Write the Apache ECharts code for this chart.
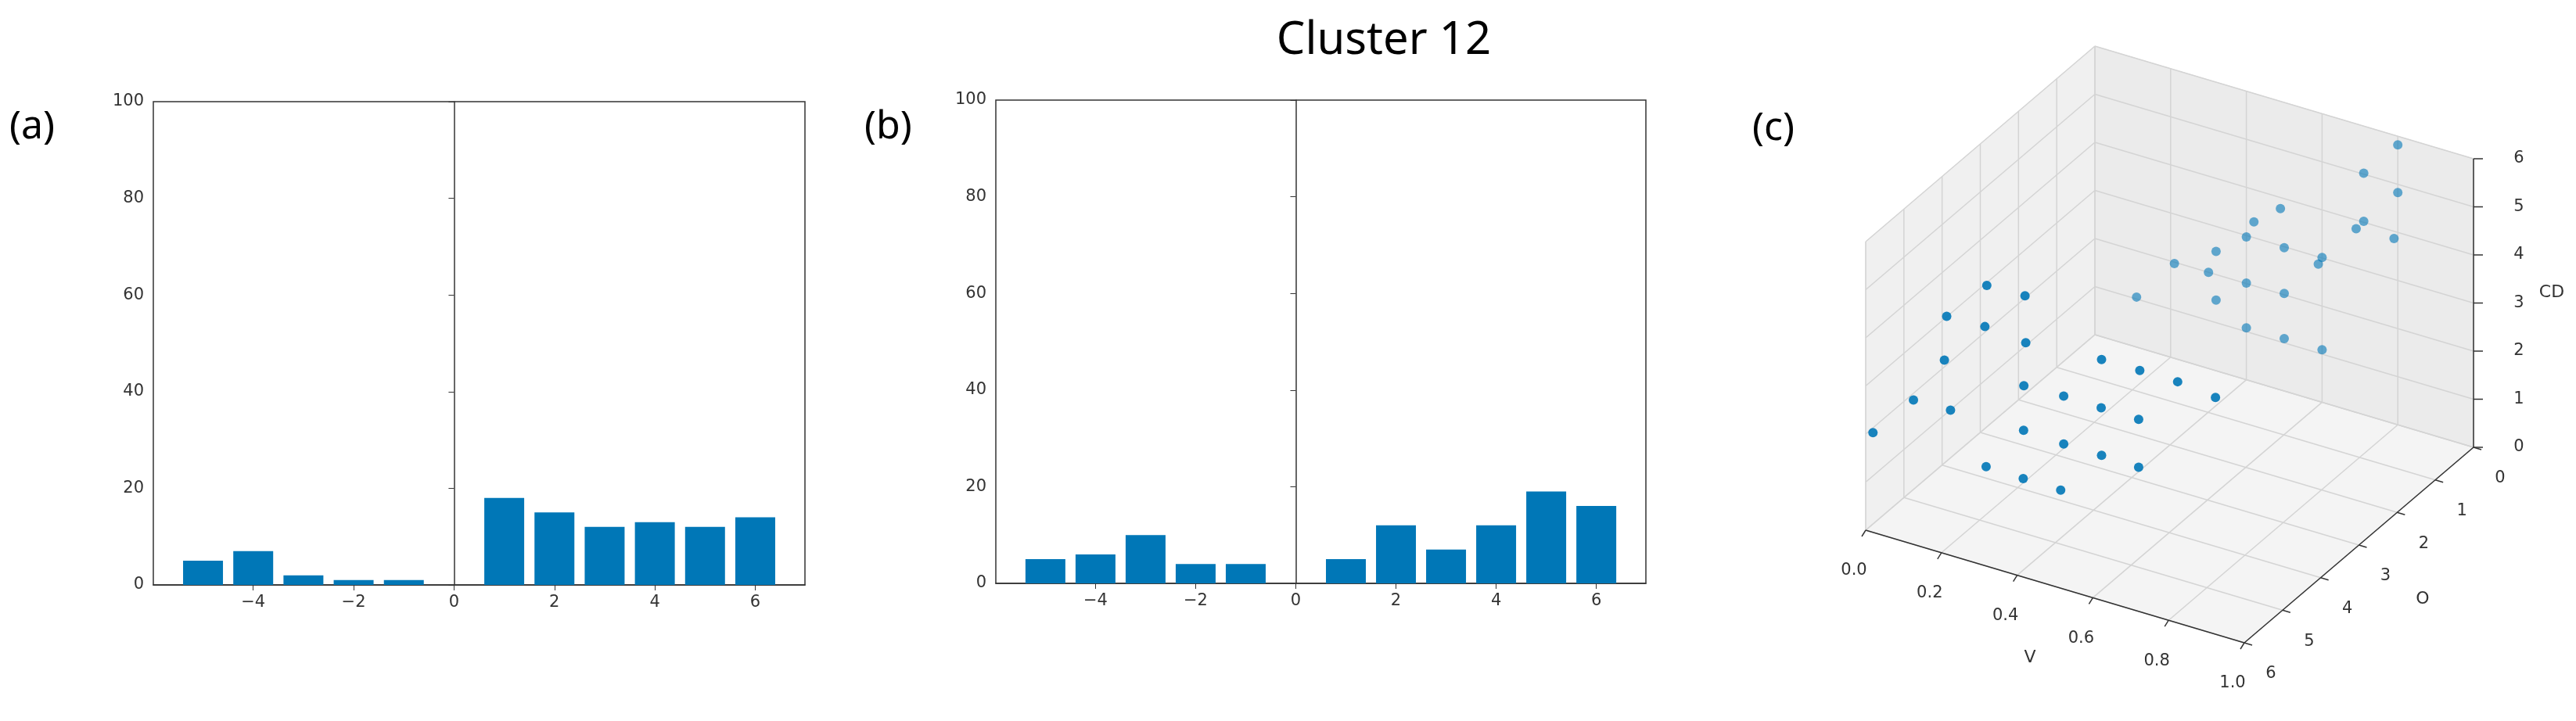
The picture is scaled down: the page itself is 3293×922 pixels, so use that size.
<!DOCTYPE html>
<html>
<head>
<meta charset="utf-8">
<script src="https://cdn.jsdelivr.net/npm/echarts@6/dist/echarts.min.js"></script>
<style>html,body{margin:0;padding:0;background:#fff}#container{width:3293px;height:922px}</style>
</head>
<body>
<div id="container"></div>
<script>
var dom = document.getElementById("container");
var myChart = echarts.init(dom);

// histogram data
var binsX = [-5, -4, -3, -2, -1, 0, 1, 2, 3, 4, 5, 6];
var countsA = [5, 7, 2, 1, 1, 0, 18, 15, 12, 13, 12, 14];
var countsB = [5, 6, 10, 4, 4, 0, 5, 12, 7, 12, 19, 16];
var xTicks = [-4, -2, 0, 2, 4, 6];

// 3D scatter data: [V, O, CD]
var pointsNear = [
  [0.07, 0.52, 0], [0.17, 0.51, 0], [0.27, 0.51, 0], [0.38, 0.61, 0],
  [0.08, 1.61, 0], [0.18, 1.62, 0], [0.28, 1.63, 0],
  [0.08, 2.66, 0], [0.19, 2.70, 0], [0.29, 2.70, 0], [0.39, 2.72, 0],
  [0.09, 3.74, 0], [0.19, 3.76, 0], [0.29, 3.77, 0],
  [0, 2.83, 2.94], [0, 1.83, 2.05], [0, 3.88, 3.01], [0, 2.88, 2.12], [0, 1.81, 1.06],
  [0, 3.94, 2.14], [0, 1.86, 0.20], [0, 4.75, 1.86], [0, 3.78, 0.99], [0, 5.81, 1.90]
];
var pointsFar = [
  [0.80, 0, 5.82], [0.71, 0, 5.02], [0.80, 0, 4.83], [0.49, 0, 3.77], [0.42, 0, 3.33],
  [0.71, 0, 4.02], [0.69, 0, 3.82], [0.79, 0, 3.85], [0.40, 0, 2.97], [0.50, 0, 2.98],
  [0.32, 0, 2.48], [0.60, 0, 3.01], [0.59, 0, 2.85], [0.21, 0, 1.97], [0.30, 0, 2.00],
  [0.40, 0, 2.01], [0.50, 0, 2.03], [0.11, 0, 1.04], [0.32, 0, 1.47], [0.40, 0, 1.08],
  [0.50, 0, 1.09], [0.60, 0, 1.09]
];
var vTicks = [0, 0.2, 0.4, 0.6, 0.8, 1.0];
var oTicks = [0, 1, 2, 3, 4, 5, 6];
var cdTicks = [0, 1, 2, 3, 4, 5, 6];

var blue = '#0077b7';
var tickFont = {color: '#333', fontSize: 21, fontFamily: 'DejaVu Sans'};

// simple projection of the 3D box onto the page
function proj(v, o, cd) {
  return [2678 + v * 484 - o / 6 * 293, 428 + v * 144 + o / 6 * 250 - cd / 6 * 369];
}

var polys = [];   // panes
var lines = [];   // grid lines
polys.push([proj(0,0,0), proj(1,0,0), proj(1,6,0), proj(0,6,0)]);
polys.push([proj(0,0,0), proj(0,6,0), proj(0,6,6), proj(0,0,6)]);
polys.push([proj(0,0,0), proj(1,0,0), proj(1,0,6), proj(0,0,6)]);
vTicks.forEach(function (v) {
  lines.push([proj(v,0,0), proj(v,6,0)]);
  lines.push([proj(v,0,0), proj(v,0,6)]);
});
oTicks.forEach(function (o) {
  lines.push([proj(0,o,0), proj(1,o,0)]);
  lines.push([proj(0,o,0), proj(0,o,6)]);
});
cdTicks.forEach(function (c) {
  lines.push([proj(0,0,c), proj(0,6,c)]);
  lines.push([proj(0,0,c), proj(1,0,c)]);
});
var axisLines = [[proj(0,6,0), proj(1,6,0)], [proj(1,6,0), proj(1,0,0)], [proj(1,0,0), proj(1,0,6)]];
var tickLabels = [];
vTicks.forEach(function (v) { var p = proj(v,6,0); tickLabels.push([p[0] - 15, p[1] + 52, v.toFixed(1)]); });
oTicks.forEach(function (o) { var p = proj(1,o,0); tickLabels.push([p[0] + 34, p[1] + 40, String(o)]); });
cdTicks.forEach(function (c) { var p = proj(1,0,c); tickLabels.push([p[0] + 58, p[1], String(c)]); });
var tickMarks = [];
vTicks.forEach(function (v) { var p = proj(v,6,0); tickMarks.push([p, [p[0] - 5, p[1] + 8]]); });
oTicks.forEach(function (o) { var p = proj(1,o,0); tickMarks.push([p, [p[0] + 10, p[1] + 3]]); });
cdTicks.forEach(function (c) { var p = proj(1,0,c); tickMarks.push([p, [p[0] + 12, p[1]]]); });

function toXY(pts) { return pts.map(function (p) { return proj(p[0], p[1], p[2]); }); }

function barSeries(counts, idx) {
  return {
    type: 'bar', xAxisIndex: idx, yAxisIndex: idx, barWidth: 51,
    itemStyle: {color: blue},
    data: binsX.map(function (x, i) { return [x, counts[i]]; })
  };
}
function xAx(idx) {
  return {
    type: 'value', gridIndex: idx, min: -5.99, max: 6.99,
    splitLine: {show: false},
    axisLine: {lineStyle: {color: '#333', width: 1.5}},
    axisTick: {customValues: xTicks, length: 7, lineStyle: {color: '#333'}},
    axisLabel: Object.assign({customValues: xTicks, margin: 12,
      formatter: function (v) { return String(v).replace('-', '\u2212'); }}, tickFont)
  };
}
function yAx(idx) {
  return {
    type: 'value', gridIndex: idx, min: 0, max: 100, interval: 20,
    splitLine: {show: false},
    axisLine: {show: true, lineStyle: {color: '#333', width: 1.5}},
    axisTick: {show: true, length: 7, lineStyle: {color: '#333'}},
    axisLabel: Object.assign({margin: 12}, tickFont)
  };
}

var option = {
  animation: false,
  title: {text: 'Cluster 12', left: 1764, top: 18, textAlign: 'center',
    textStyle: {fontSize: 58, fontWeight: 'normal', color: '#000', fontFamily: 'Noto Sans'}},
  graphic: [
    {type: 'text', left: 12, top: 138, style: {text: '(a)', fontSize: 50, fontFamily: 'Noto Sans', fill: '#000'}},
    {type: 'text', left: 1105, top: 138, style: {text: '(b)', fontSize: 50, fontFamily: 'Noto Sans', fill: '#000'}},
    {type: 'text', left: 2240, top: 140, style: {text: '(c)', fontSize: 50, fontFamily: 'Noto Sans', fill: '#000'}},
    {type: 'text', x: 2595, y: 841, style: {text: 'V', fontSize: 22, fontFamily: 'DejaVu Sans', fill: '#333', align: 'center', verticalAlign: 'middle'}},
    {type: 'text', x: 3097, y: 766, style: {text: 'O', fontSize: 22, fontFamily: 'DejaVu Sans', fill: '#333', align: 'center', verticalAlign: 'middle'}},
    {type: 'text', x: 3262, y: 374, style: {text: 'CD', fontSize: 22, fontFamily: 'DejaVu Sans', fill: '#333', align: 'center', verticalAlign: 'middle'}}
  ],
  grid: [
    {left: 196, right: 2264, top: 130, bottom: 174, show: true, borderColor: '#333', borderWidth: 1.5},
    {left: 1273, right: 1189, top: 128, bottom: 176, show: true, borderColor: '#333', borderWidth: 1.5},
    {left: 0, right: 0, top: 0, bottom: 0}
  ],
  xAxis: [xAx(0), xAx(1),
    {type: 'value', gridIndex: 2, min: 0, max: 3293, show: false}],
  yAxis: [yAx(0), yAx(1),
    {type: 'value', gridIndex: 2, min: 0, max: 922, inverse: true, show: false}],
  series: [
    barSeries(countsA, 0),
    barSeries(countsB, 1),
    {
      type: 'custom', xAxisIndex: 2, yAxisIndex: 2, silent: true, z: 1,
      data: [0],
      renderItem: function (params, api) {
        var ch = [];
        var fills = ['#f4f4f4', '#f0f0f0', '#ebebeb'];
        polys.forEach(function (pg, i) {
          ch.push({type: 'polygon', shape: {points: pg.map(function (p) { return api.coord(p); })},
            style: {fill: fills[i], stroke: '#e2e2e2', lineWidth: 1}});
        });
        lines.forEach(function (l) {
          ch.push({type: 'line', shape: {x1: api.coord(l[0])[0], y1: api.coord(l[0])[1], x2: api.coord(l[1])[0], y2: api.coord(l[1])[1]},
            style: {stroke: '#d4d4d4', lineWidth: 1.5}});
        });
        axisLines.concat(tickMarks).forEach(function (l) {
          ch.push({type: 'line', shape: {x1: api.coord(l[0])[0], y1: api.coord(l[0])[1], x2: api.coord(l[1])[0], y2: api.coord(l[1])[1]},
            style: {stroke: '#333', lineWidth: 1.5}});
        });
        tickLabels.forEach(function (t) {
          var c = api.coord([t[0], t[1]]);
          ch.push({type: 'text', x: c[0], y: c[1], style: {text: t[2], fontSize: 21, fontFamily: 'DejaVu Sans', fill: '#333', align: 'center', verticalAlign: 'middle'}});
        });
        return {type: 'group', children: ch};
      }
    },
    {type: 'scatter', xAxisIndex: 2, yAxisIndex: 2, z: 3, symbolSize: 12,
      itemStyle: {color: blue, opacity: 0.6}, data: toXY(pointsFar)},
    {type: 'scatter', xAxisIndex: 2, yAxisIndex: 2, z: 4, symbolSize: 12,
      itemStyle: {color: blue, opacity: 0.9}, data: toXY(pointsNear)}
  ]
};

if (option && typeof option === "object") {
  myChart.setOption(option, true);
}
</script>
</body>
</html>
